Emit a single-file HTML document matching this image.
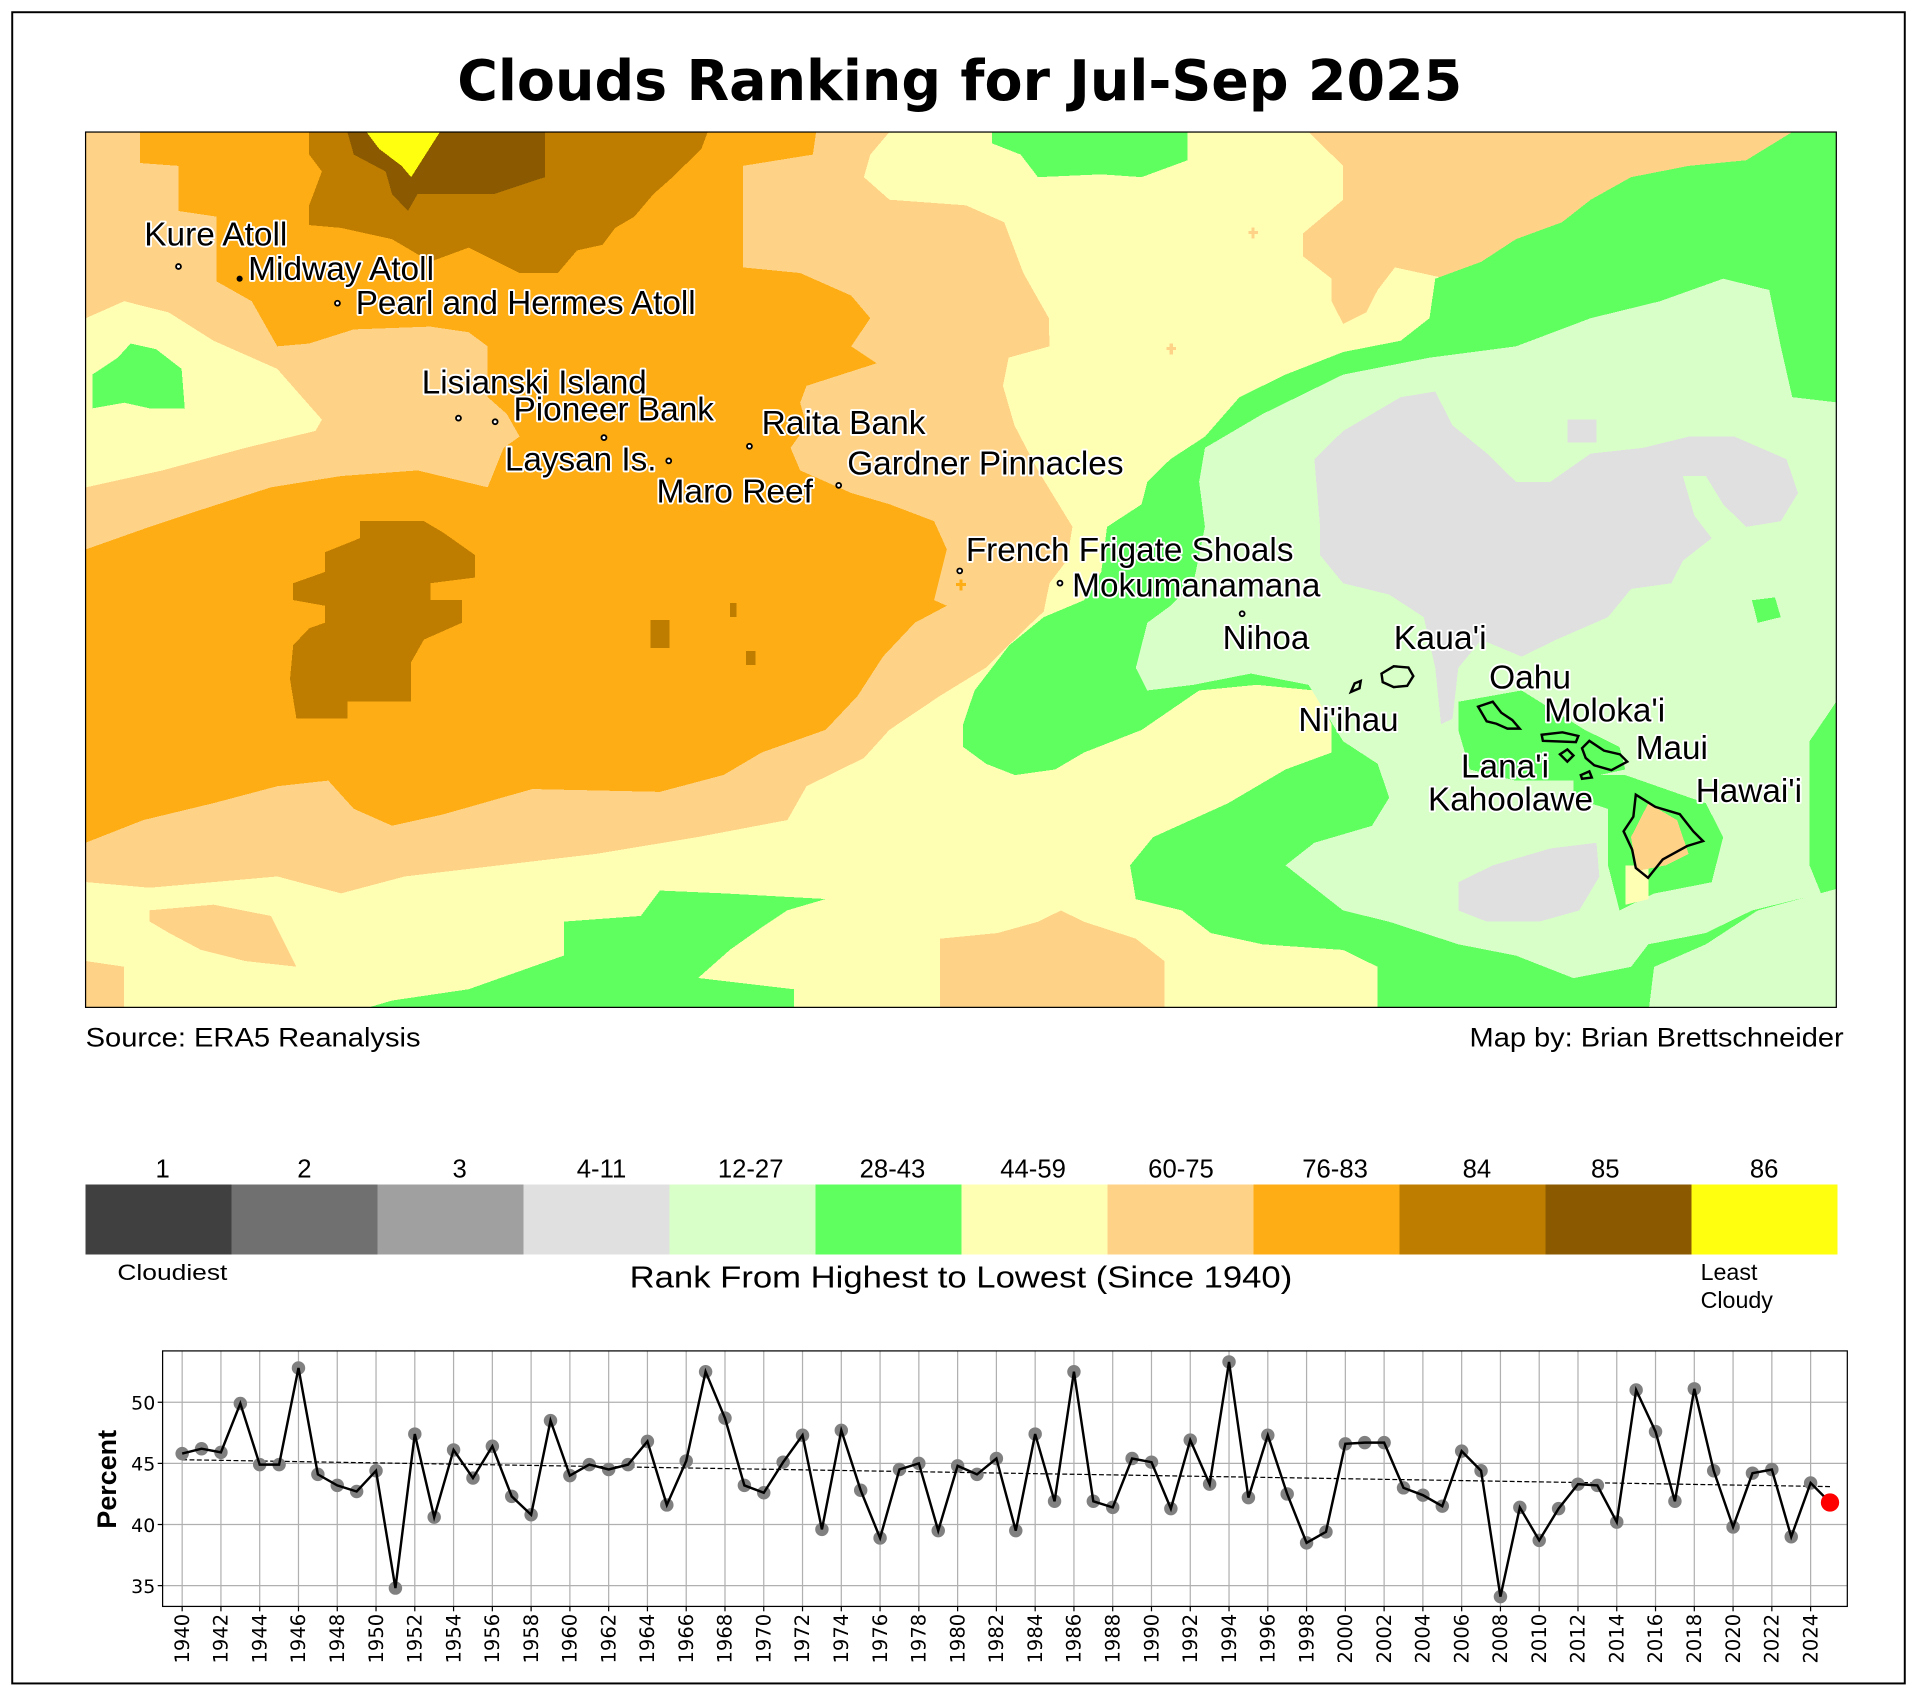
<!DOCTYPE html>
<html><head><meta charset="utf-8"><style>
html,body{margin:0;padding:0;background:#fff;}
svg{display:block;}
.lab{font-family:"Liberation Sans",Arial,sans-serif;font-size:27px;fill:#000;stroke:#fff;stroke-width:3px;paint-order:stroke;stroke-linejoin:round;}
.dj{font-family:"DejaVu Sans","Liberation Sans",sans-serif;}
.ls{font-family:"Liberation Sans",Arial,sans-serif;}
</style></head><body>
<svg id="s" width="1917" height="1692" viewBox="0 0 1568 1384" preserveAspectRatio="none" xmlns="http://www.w3.org/2000/svg">
<rect x="0" y="0" width="1568" height="1384" fill="#fff"/>
<rect x="10" y="10" width="1548" height="1367" fill="none" stroke="#000" stroke-width="1.6"/>
<text x="785" y="82" text-anchor="middle" class="dj" font-weight="bold" font-size="46" textLength="822" lengthAdjust="spacingAndGlyphs">Clouds Ranking for Jul-Sep 2025</text>

<defs><clipPath id="mc"><rect x="70" y="108" width="1432" height="716"/></clipPath></defs>
<g clip-path="url(#mc)" shape-rendering="crispEdges">
<rect x="70" y="108" width="1432" height="716" fill="#FFFFB4"/>
<g transform="translate(70.3,108) scale(0.5216,0.4613)">
<polygon fill="#FFD387" points="0,0 1260,0 1230,40 1220,80 1260,120 1380,130 1440,160 1470,250 1510,330 1511,380 1447,400 1438,450 1456,520 1493,600 1520,650 1547,700 1538,760 1511,800 1502,850 1474,880 1411,950 1339,1000 1260,1060 1220,1110 1130,1160 1100,1220 960,1250 800,1280 650,1300 500,1320 400,1350 300,1320 200,1330 100,1340 0,1330"/>
<polygon fill="#FFD387" points="100,1380 200,1370 290,1390 330,1480 250,1470 180,1450 130,1420 100,1400"/>
<polygon fill="#FFD387" points="0,1470 60,1480 60,1560 0,1560"/>
<polygon fill="#FFFFB4" points="0,330 60,300 130,320 200,370 300,420 370,510 360,530 250,560 120,600 0,630"/>
<polygon fill="#60FF60" points="10,430 50,400 70,375 110,385 150,420 155,490 100,490 60,480 10,490"/>
<polygon fill="#FFAD14" points="85,0 1145,0 1140,40 1030,60 1030,240 1120,250 1200,290 1230,330 1200,380 1240,410 1130,450 1120,480 1130,520 1105,560 1120,600 1200,640 1260,660 1330,690 1350,740 1330,830 1350,840 1300,870 1250,930 1210,1000 1160,1060 1060,1100 1000,1140 900,1170 700,1165 560,1210 480,1230 420,1200 380,1150 300,1160 200,1190 90,1220 0,1260 0,740 100,700 180,670 290,630 400,610 520,600 630,630 655,560 680,540 660,500 630,470 630,380 600,355 540,345 420,350 350,375 300,380 260,300 205,265 205,150 145,140 145,60 85,55"/>
<polygon fill="#BF7D00" points="350,0 975,0 965,30 920,80 890,110 860,150 830,170 810,200 770,210 740,250 680,250 600,205 540,230 480,190 400,170 350,165 350,130 370,70 350,40"/>
<polygon fill="#8B5A00" points="410,0 720,0 720,80 640,110 520,110 505,140 480,110 470,70 420,40"/>
<polygon fill="#FFFF10" points="440,0 555,0 510,80 495,60 460,30"/>
<polygon fill="#BF7D00" points="430,690 530,690 560,710 610,750 610,790 540,800 540,830 590,830 590,870 530,900 510,940 510,1010 410,1010 410,1040 330,1040 320,970 325,910 350,880 375,870 375,840 325,830 325,800 375,780 375,745 430,720"/>
<rect fill="#BF7D00" x="885" y="865" width="30" height="50"/>
<rect fill="#BF7D00" x="1010" y="835" width="10" height="25"/>
<rect fill="#BF7D00" x="1035" y="920" width="15" height="25"/>
<polygon fill="#60FF60" points="420,1560 480,1540 600,1520 750,1460 750,1400 870,1390 900,1345 1000,1350 1160,1360 1100,1380 1060,1410 1010,1450 960,1500 1110,1520 1110,1560"/>
</g>
<g transform="translate(768.9,108) scale(0.4710,0.4614)">
<polygon fill="#60FF60" points="90,0 430,0 430,50 350,80 280,75 170,80 140,40 90,20"/>
<polygon fill="#FFD387" points="640,0 1480,0 1440,30 1400,50 1300,60 1200,80 1130,120 1080,160 1000,190 940,230 880,260 790,240 760,280 740,320 700,340 680,300 680,260 630,220 630,180 700,120 700,60"/>
<polygon fill="#60FF60" points="1563,0 1480,0 1400,50 1300,60 1200,80 1130,120 1080,160 1000,190 940,230 860,260 850,330 800,370 700,390 600,430 520,470 460,540 400,580 360,620 350,660 290,700 280,780 250,830 180,860 120,910 60,990 40,1050 40,1090 80,1120 130,1140 200,1130 250,1100 350,1060 450,990 550,980 650,990 680,1050 680,1100 600,1130 500,1190 370,1250 330,1300 340,1360 420,1380 470,1420 560,1440 700,1450 760,1480 760,1563 1563,1563"/>
<polygon fill="#D8FFC8" points="460,560 560,500 700,430 850,400 1000,380 1130,330 1250,300 1360,260 1440,280 1460,380 1480,470 1563,480 1563,1000 1510,1080 1510,1300 1530,1350 1410,1380 1330,1420 1230,1440 1200,1480 1100,1500 1000,1460 900,1440 780,1400 700,1380 600,1300 650,1260 750,1230 780,1180 760,1120 700,1080 640,980 540,960 440,980 360,990 340,950 360,870 400,840 440,800 460,700 450,620"/>
<polygon fill="#D8FFC8" points="1420,1380 1563,1340 1563,1563 1230,1563 1240,1480 1330,1440"/>
<polygon fill="#60FF60" points="900,1010 1010,990 1120,1060 1180,1090 1190,1130 1100,1150 1000,1150 920,1130 900,1060"/>
<polygon fill="#60FF60" points="1100,1140 1190,1140 1330,1190 1360,1250 1340,1330 1240,1350 1180,1380 1160,1300 1160,1200 1100,1180"/>
<polygon fill="#60FF60" points="1410,830 1450,825 1460,860 1420,870"/>
<polygon fill="#E0E0E0" points="650,580 700,530 800,470 860,460 890,520 950,570 1000,620 1060,620 1130,570 1220,560 1300,540 1380,540 1470,580 1490,640 1460,690 1400,700 1360,660 1330,610 1290,610 1310,680 1340,720 1290,760 1270,800 1200,810 1160,860 1070,900 1010,930 940,900 900,950 890,1040 870,1050 860,950 840,860 780,820 700,800 660,750 660,700"/>
<polygon fill="#E0E0E0" points="1090,510 1140,510 1140,550 1090,550"/>
<polygon fill="#E0E0E0" points="900,1330 960,1300 1060,1270 1140,1260 1145,1320 1110,1380 1040,1400 950,1400 900,1380"/>
<polygon fill="#FFD387" points="0,1430 100,1420 170,1400 210,1380 250,1400 340,1430 390,1470 390,1563 0,1563"/>
<polygon fill="#FFFFB4" points="1190,1300 1230,1300 1230,1360 1190,1370"/>
<polygon fill="#FFD387" points="1230,1190 1280,1220 1300,1280 1260,1300 1210,1310 1200,1250"/>
</g>
<path d="M782,478h8M786,474v9" stroke="#FFAD14" stroke-width="2.5"/>
<path d="M954,285h8M958,281v9M1021,190h8M1025,186v9" stroke="#FFD387" stroke-width="2.5"/>
</g>
<rect x="70" y="108" width="1432" height="716" fill="none" stroke="#000" stroke-width="1"/>

<g fill="none" stroke="#000" stroke-width="2">
<path d="M1130,551 L1140,545 L1152,546 L1156,553 L1151,561 L1140,562 L1131,558 Z"/>
<path d="M1105,566 L1108,559 L1113,557 L1112,563 Z"/>
<path d="M1209,578 L1221,574 L1228,583 L1237,589 L1243,596 L1233,596 L1224,592 L1216,590 Z"/>
<path d="M1261,601 L1278,599 L1291,602 L1289,607 L1262,606 Z"/>
<path d="M1276,617 L1282,613 L1287,618 L1282,623 Z"/>
<path d="M1294,612 L1300,606 L1312,614 L1325,617 L1331,623 L1318,630 L1304,626 L1297,620 Z"/>
<path d="M1293,634 L1300,631 L1302,636 L1294,637 Z"/>
<path d="M1338,650 L1354,660 L1374,666 L1385,680 L1393,688 L1380,692 L1360,703 L1348,718 L1338,710 L1335,695 L1328,680 L1336,668 Z"/>
</g>
<g fill="#fff" stroke="#000" stroke-width="1.5">
<circle cx="146" cy="218" r="2"/><circle cx="276" cy="248" r="2"/><circle cx="375" cy="342" r="2"/><circle cx="405" cy="345" r="2"/>
<circle cx="494" cy="358" r="2"/><circle cx="613" cy="365" r="2"/><circle cx="547" cy="377" r="2"/><circle cx="686" cy="397" r="2"/>
<circle cx="785" cy="467" r="2"/><circle cx="867" cy="477" r="2"/><circle cx="1016" cy="502" r="2"/>
</g>
<circle cx="196" cy="228" r="2.5" fill="#000"/>
<g class="lab">
<text x="118" y="201" textLength="117" lengthAdjust="spacingAndGlyphs">Kure Atoll</text>
<text x="203" y="229" textLength="152" lengthAdjust="spacingAndGlyphs">Midway Atoll</text>
<text x="291" y="257" textLength="278" lengthAdjust="spacingAndGlyphs">Pearl and Hermes Atoll</text>
<text x="345" y="322" textLength="184" lengthAdjust="spacingAndGlyphs">Lisianski Island</text>
<text x="420" y="344" textLength="164" lengthAdjust="spacingAndGlyphs">Pioneer Bank</text>
<text x="623" y="355" textLength="134" lengthAdjust="spacingAndGlyphs">Raita Bank</text>
<text x="413" y="385" textLength="124" lengthAdjust="spacingAndGlyphs">Laysan Is.</text>
<text x="693" y="388" textLength="226" lengthAdjust="spacingAndGlyphs">Gardner Pinnacles</text>
<text x="537" y="411" textLength="128" lengthAdjust="spacingAndGlyphs">Maro Reef</text>
<text x="790" y="459" textLength="268" lengthAdjust="spacingAndGlyphs">French Frigate Shoals</text>
<text x="877" y="488" textLength="203" lengthAdjust="spacingAndGlyphs">Mokumanamana</text>
<text x="1000" y="531" textLength="71" lengthAdjust="spacingAndGlyphs">Nihoa</text>
<text x="1140" y="531" textLength="76" lengthAdjust="spacingAndGlyphs">Kaua'i</text>
<text x="1218" y="563" textLength="67" lengthAdjust="spacingAndGlyphs">Oahu</text>
<text x="1062" y="598" textLength="82" lengthAdjust="spacingAndGlyphs">Ni'ihau</text>
<text x="1263" y="590" textLength="99" lengthAdjust="spacingAndGlyphs">Moloka'i</text>
<text x="1338" y="621" textLength="59" lengthAdjust="spacingAndGlyphs">Maui</text>
<text x="1195" y="636" textLength="72" lengthAdjust="spacingAndGlyphs">Lana'i</text>
<text x="1168" y="663" textLength="135" lengthAdjust="spacingAndGlyphs">Kahoolawe</text>
<text x="1387" y="656" textLength="87" lengthAdjust="spacingAndGlyphs">Hawai'i</text>
</g>
<text x="70" y="856" class="ls" font-size="22" textLength="274" lengthAdjust="spacingAndGlyphs">Source: ERA5 Reanalysis</text>
<text x="1508" y="856" class="ls" font-size="22" text-anchor="end" textLength="306" lengthAdjust="spacingAndGlyphs">Map by: Brian Brettschneider</text>

<g shape-rendering="crispEdges">
<rect x="70" y="969" width="119.5" height="57" fill="#404040"/>
<rect x="189.4" y="969" width="119.5" height="57" fill="#707070"/>
<rect x="308.8" y="969" width="119.5" height="57" fill="#A0A0A0"/>
<rect x="428.2" y="969" width="119.5" height="57" fill="#E0E0E0"/>
<rect x="547.6" y="969" width="119.5" height="57" fill="#D8FFC8"/>
<rect x="667" y="969" width="119.5" height="57" fill="#60FF60"/>
<rect x="786.4" y="969" width="119.5" height="57" fill="#FFFFB4"/>
<rect x="905.8" y="969" width="119.5" height="57" fill="#FFD387"/>
<rect x="1025.2" y="969" width="119.5" height="57" fill="#FFAD14"/>
<rect x="1144.6" y="969" width="119.5" height="57" fill="#BF7D00"/>
<rect x="1264" y="969" width="119.5" height="57" fill="#8B5A00"/>
<rect x="1383.4" y="969" width="119.6" height="57" fill="#FFFF10"/>
</g>
<g class="ls" font-size="21" text-anchor="middle">
<text x="133" y="963">1</text><text x="249" y="963">2</text><text x="376" y="963">3</text>
<text x="492" y="963">4-11</text><text x="614" y="963">12-27</text><text x="730" y="963">28-43</text>
<text x="845" y="963">44-59</text><text x="966" y="963">60-75</text><text x="1092" y="963">76-83</text>
<text x="1208" y="963">84</text><text x="1313" y="963">85</text><text x="1443" y="963">86</text>
</g>
<text x="96" y="1047" class="ls" font-size="18" textLength="90" lengthAdjust="spacingAndGlyphs">Cloudiest</text>
<text x="515" y="1053" class="ls" font-size="25" textLength="542" lengthAdjust="spacingAndGlyphs">Rank From Highest to Lowest (Since 1940)</text>
<text x="1391" y="1047" class="ls" font-size="19">Least</text>
<text x="1391" y="1070" class="ls" font-size="19">Cloudy</text>

<g id="chart"></g>
<rect x="133" y="1105" width="1378" height="209" fill="none" stroke="#000" stroke-width="1"/>
<g class="dj" font-size="15.5" text-anchor="end">
<text x="127" y="1153">50</text><text x="127" y="1203">45</text><text x="127" y="1253">40</text><text x="127" y="1303">35</text>
</g>
<text transform="translate(95,1210) rotate(-90)" text-anchor="middle" class="ls" font-weight="bold" font-size="22">Percent</text>
<g class="dj" font-size="16" text-anchor="end">
<text transform="translate(154.5,1320) rotate(-90)">1940</text>
<text transform="translate(186.2,1320) rotate(-90)">1942</text>
<text transform="translate(217.9,1320) rotate(-90)">1944</text>
<text transform="translate(249.6,1320) rotate(-90)">1946</text>
<text transform="translate(281.4,1320) rotate(-90)">1948</text>
<text transform="translate(313.1,1320) rotate(-90)">1950</text>
<text transform="translate(344.8,1320) rotate(-90)">1952</text>
<text transform="translate(376.5,1320) rotate(-90)">1954</text>
<text transform="translate(408.2,1320) rotate(-90)">1956</text>
<text transform="translate(439.9,1320) rotate(-90)">1958</text>
<text transform="translate(471.6,1320) rotate(-90)">1960</text>
<text transform="translate(503.4,1320) rotate(-90)">1962</text>
<text transform="translate(535.1,1320) rotate(-90)">1964</text>
<text transform="translate(566.8,1320) rotate(-90)">1966</text>
<text transform="translate(598.5,1320) rotate(-90)">1968</text>
<text transform="translate(630.2,1320) rotate(-90)">1970</text>
<text transform="translate(661.9,1320) rotate(-90)">1972</text>
<text transform="translate(693.6,1320) rotate(-90)">1974</text>
<text transform="translate(725.4,1320) rotate(-90)">1976</text>
<text transform="translate(757.1,1320) rotate(-90)">1978</text>
<text transform="translate(788.8,1320) rotate(-90)">1980</text>
<text transform="translate(820.5,1320) rotate(-90)">1982</text>
<text transform="translate(852.2,1320) rotate(-90)">1984</text>
<text transform="translate(883.9,1320) rotate(-90)">1986</text>
<text transform="translate(915.6,1320) rotate(-90)">1988</text>
<text transform="translate(947.4,1320) rotate(-90)">1990</text>
<text transform="translate(979.1,1320) rotate(-90)">1992</text>
<text transform="translate(1010.8,1320) rotate(-90)">1994</text>
<text transform="translate(1042.5,1320) rotate(-90)">1996</text>
<text transform="translate(1074.2,1320) rotate(-90)">1998</text>
<text transform="translate(1105.9,1320) rotate(-90)">2000</text>
<text transform="translate(1137.6,1320) rotate(-90)">2002</text>
<text transform="translate(1169.4,1320) rotate(-90)">2004</text>
<text transform="translate(1201.1,1320) rotate(-90)">2006</text>
<text transform="translate(1232.8,1320) rotate(-90)">2008</text>
<text transform="translate(1264.5,1320) rotate(-90)">2010</text>
<text transform="translate(1296.2,1320) rotate(-90)">2012</text>
<text transform="translate(1327.9,1320) rotate(-90)">2014</text>
<text transform="translate(1359.6,1320) rotate(-90)">2016</text>
<text transform="translate(1391.4,1320) rotate(-90)">2018</text>
<text transform="translate(1423.1,1320) rotate(-90)">2020</text>
<text transform="translate(1454.8,1320) rotate(-90)">2022</text>
<text transform="translate(1486.5,1320) rotate(-90)">2024</text>
</g>
</svg>
<script>
(function(){
var d=[45.8,46.2,45.9,49.9,44.9,44.9,52.8,44.1,43.2,42.7,44.4,34.8,47.4,40.6,46.1,43.8,46.4,42.3,40.8,48.5,44.0,44.9,44.5,44.9,46.8,41.6,45.2,52.5,48.7,43.2,42.6,45.1,47.3,39.6,47.7,42.8,38.9,44.5,45.0,39.5,44.8,44.1,45.4,39.5,47.4,41.9,52.5,41.9,41.4,45.4,45.1,41.3,46.9,43.3,53.3,42.2,47.3,42.5,38.5,39.4,46.6,46.7,46.7,43.0,42.4,41.5,46.0,44.4,34.1,41.4,38.7,41.3,43.3,43.2,40.2,51.0,47.6,41.9,51.1,44.4,39.8,44.2,44.5,39.0,43.4,41.8];
function X(i){return 149+i*15.857;} function Y(v){return 1197-(v-45)*10;}
var s='',ns='http://www.w3.org/2000/svg';
for(var y=1940;y<=2024;y+=2){var x=X(y-1940);s+='<line x1="'+x+'" y1="1105" x2="'+x+'" y2="1314" stroke="#b0b0b0" stroke-width="1"/>';s+='<line x1="'+x+'" y1="1314" x2="'+x+'" y2="1318" stroke="#000" stroke-width="1"/>';}
[35,40,45,50].forEach(function(v){s+='<line x1="133" y1="'+Y(v)+'" x2="1511" y2="'+Y(v)+'" stroke="#b0b0b0" stroke-width="1"/><line x1="129" y1="'+Y(v)+'" x2="133" y2="'+Y(v)+'" stroke="#000"/>';});
s+='<line x1="'+X(0)+'" y1="'+Y(45.3)+'" x2="'+X(85)+'" y2="'+Y(43.1)+'" stroke="#000" stroke-width="1" stroke-dasharray="4,2"/>';
for(var i=0;i<85;i++){s+='<circle cx="'+X(i)+'" cy="'+Y(d[i])+'" r="5.5" fill="#808080"/>';}
var p=[];for(i=0;i<86;i++)p.push(X(i)+','+Y(d[i]));
s+='<polyline points="'+p.join(' ')+'" fill="none" stroke="#000" stroke-width="2"/>';
s+='<circle cx="'+X(85)+'" cy="'+Y(d[85])+'" r="7.5" fill="#ff0000"/>';
var g=document.getElementById('chart');
var tmp=new DOMParser().parseFromString('<svg xmlns="'+ns+'">'+s+'</svg>','image/svg+xml');
var kids=tmp.documentElement.childNodes;
for(i=0;i<kids.length;i++)g.appendChild(document.importNode(kids[i],true));
})();
</script>
</body></html>
